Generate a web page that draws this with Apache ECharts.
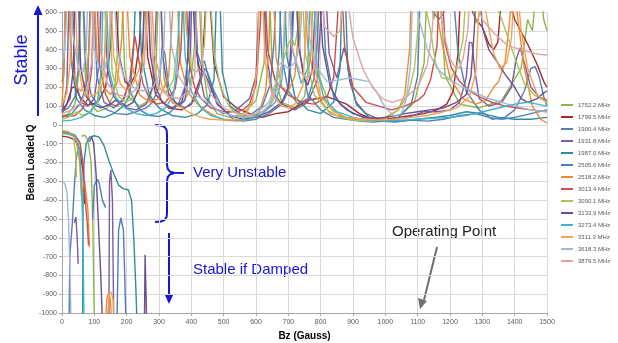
<!DOCTYPE html>
<html>
<head>
<meta charset="utf-8">
<script src="https://cdn.jsdelivr.net/npm/echarts@6/dist/echarts.min.js"></script>
<style>
  html, body { margin: 0; padding: 0; background: #fff; }
  #chart { width: 618px; height: 343px; }
</style>
</head>
<body>
<div id="chart"></div>
<script>
// Beam loaded Q vs Bz for each mode, [Bz, Q]; null breaks a line
var seriesNames = ['1752.2 MHz', '1799.5 MHz', '1900.4 MHz', '1931.8 MHz', '1987.0 MHz', '2505.6 MHz', '2518.2 MHz',
    '3013.4 MHz', '3090.1 MHz', '3133.9 MHz', '3273.4 MHz', '3311.3 MHz', '3618.3 MHz', '3879.5 MHz'];

var q1752 = [[0,45],[20,60],[40,110],[50,250],[56,700],[64,700],[72,260],[85,120],[110,70],[140,90],[160,160],[170,330],[176,700],[186,700],[194,300],[210,140],[240,100],[270,130],[290,260],[298,700],[306,700],[316,240],[340,120],[370,110],[395,180],[410,420],[416,700],[424,700],[432,360],[450,140],[480,60],[520,40],[560,60],[600,130],[625,330],[632,700],[642,700],[650,300],[680,120],[720,90],[750,150],[770,380],[776,700],[786,700],[795,260],[830,90],[870,40],[920,25],[980,20],[1040,40],[1090,120],[1120,330],[1128,700],[1140,700],[1150,560],[1160,700],[1170,700],[1185,260],[1230,110],[1290,90],[1360,130],[1420,300],[1440,560],[1455,500],[1465,700],[1480,700],[1490,560],[1500,500],
    [1500,null],[60,-60],[70,-55],[80,-80],[90,-200],[95,-500],[100,-1050]];
var q1799 = [[0,60],[15,110],[30,195],[40,205],[55,150],[80,105],[110,120],[135,200],[150,420],[156,700],[166,700],[175,380],[195,230],[210,210],[225,260],[240,440],[246,700],[256,700],[265,360],[290,160],[330,90],[370,80],[400,110],[430,260],[440,500],[446,700],[456,700],[470,330],[500,150],[540,90],[580,60],[620,40],[660,60],[700,70],[740,110],[760,130],[790,140],[820,150],[850,130],[880,110],[920,60],[960,30],[1000,30],[1040,40],[1080,50],[1120,60],[1160,80],[1190,110],[1210,180],[1225,380],[1232,700],[1245,700],[1260,640],[1280,560],[1300,520],[1320,430],[1335,400],[1348,440],[1360,700],[1375,700],[1400,560],[1440,430],[1470,320],[1490,230],[1500,200],
    [1500,null],[0,-60],[20,-65],[40,-80],[55,-130],[65,-250],[70,-420]];
var q1900 = [[0,70],[20,90],[40,150],[52,320],[58,700],[66,700],[74,300],[90,160],[110,110],[140,80],[170,60],[200,55],[230,70],[260,90],[280,120],[300,200],[310,420],[318,380],[330,200],[350,120],[380,90],[410,130],[430,240],[440,300],[450,280],[470,180],[500,80],[530,30],[560,20],[600,30],[640,60],[680,110],[700,180],[712,420],[718,700],[728,700],[736,380],[760,160],[800,80],[840,40],[880,30],[920,20],[960,15],[1000,20],[1040,40],[1080,110],[1100,260],[1108,700],[1120,700],[1140,620],[1165,560],[1180,590],[1195,700],[1210,700],[1225,380],[1250,180],[1290,80],[1330,30],[1370,40],[1400,80],[1430,180],[1450,300],[1463,310],[1475,260],[1490,150],[1500,100],
    [1500,null],[22,-1050],[24,-700],[27,-630],[32,-520],[38,-330],[44,-180],[50,-120]];
var q1931 = [[0,70],[15,200],[22,700],[32,700],[40,240],[60,120],[80,100],[100,140],[115,330],[122,700],[132,700],[140,300],[160,150],[180,110],[200,90],[230,80],[260,110],[280,200],[288,440],[294,700],[304,700],[312,360],[330,160],[360,100],[380,130],[395,300],[402,700],[412,700],[420,320],[440,150],[470,90],[500,60],[540,80],[580,140],[600,260],[608,600],[614,700],[624,700],[632,380],[650,180],[680,110],[720,80],[760,120],[790,240],[800,560],[806,700],[816,700],[826,380],[850,250],[872,410],[880,360],[890,230],[910,120],[940,60],[980,30],[1020,25],[1070,40],[1120,70],[1160,70],[1200,80],[1230,120],[1250,250],[1260,440],[1268,436],[1276,300],[1290,140],[1320,100],[1360,120],[1390,200],[1405,350],[1417,410],[1430,330],[1450,200],[1475,150],[1500,130],
    [1500,null],[38,-520],[43,-490],[47,-600],[50,-740],
    [50,null],[145,-1050],[147,-300],[151,-240],[156,-400],[160,-1050]];
var q1987 = [[0,230],[5,260],[8,400],[12,700],[22,700],[30,320],[45,140],[70,80],[100,50],[130,40],[160,60],[190,100],[210,160],[222,420],[228,700],[238,700],[246,360],[270,160],[300,90],[340,50],[380,40],[420,60],[450,110],[470,240],[478,700],[488,700],[496,280],[520,100],[560,50],[600,50],[640,90],[660,160],[672,400],[678,700],[688,700],[696,360],[720,150],[760,80],[800,60],[840,120],[860,300],[866,700],[876,700],[884,300],[910,110],[950,40],[1000,20],[1050,20],[1100,30],[1150,40],[1200,50],[1250,70],[1300,60],[1350,40],[1400,30],[1450,30],[1500,40],
    [1500,null],[64,-1050],[65,-400],[68,-200],[75,-100],[85,-65],[100,-58],[115,-65],[130,-110],[145,-190],[160,-260],[175,-320],[190,-340],[205,-345],[215,-400],[222,-600],[228,-850],[232,-1050]];
var q2505 = [[0,40],[30,60],[60,120],[80,250],[88,700],[98,700],[108,260],[130,120],[160,90],[190,140],[205,213],[218,150],[240,80],[270,50],[300,45],[330,60],[360,110],[380,200],[392,420],[398,700],[408,700],[416,400],[430,320],[440,340],[455,240],[480,120],[510,60],[540,40],[580,50],[620,100],[645,220],[656,450],[662,700],[672,700],[680,360],[700,180],[730,110],[760,140],[780,250],[790,450],[796,700],[806,700],[815,380],[840,150],[880,80],[930,40],[980,20],[1030,15],[1080,25],[1130,20],[1180,30],[1230,50],[1280,60],[1320,40],[1360,30],[1400,40],[1450,60],[1500,80],
    [1500,null],[95,-500],[100,-320],[110,-290],[115,-310],[125,-400],[135,-440],
    [135,null],[170,-1050],[175,-560],[182,-495],[190,-560],[198,-1050]];
var q2518 = [[0,100],[6,300],[10,700],[20,700],[28,360],[45,200],[60,180],[75,240],[85,440],[90,700],[100,700],[108,380],[130,200],[150,160],[170,220],[185,460],[190,700],[200,700],[210,360],[240,160],[270,120],[300,140],[330,260],[342,600],[346,700],[356,700],[366,330],[390,170],[420,110],[450,70],[470,50],[500,25],[540,20],[580,30],[610,70],[630,180],[640,420],[644,700],[654,700],[662,360],[680,200],[700,180],[720,260],[735,560],[740,700],[750,700],[760,420],[780,250],[800,130],[830,60],[870,40],[920,30],[960,30],[1000,40],[1040,80],[1060,160],[1075,400],[1080,700],[1090,700],[1110,620],[1140,700],[1150,700],[1175,440],[1200,250],[1240,140],[1280,110],[1310,130],[1335,200],[1350,230],[1370,330],[1385,560],[1390,700],[1400,700],[1410,560],[1430,300],[1455,100],[1480,30],[1500,10],
    [1500,null],[0,-40],[20,-45],[35,-60],[45,-90],[55,-200],[60,-380],[65,-330],[70,-300],[80,-450],[85,-650],
    [85,null],[134,-1050],[139,-920],[144,-895],[150,-930],[153,-1050]];
var q3013 = [[0,50],[20,45],[40,50],[60,80],[80,140],[92,300],[98,700],[108,700],[116,320],[135,160],[150,110],[170,100],[190,130],[210,240],[222,440],[226,470],[234,380],[250,220],[270,140],[290,110],[320,120],[350,190],[368,400],[374,700],[384,700],[392,340],[410,200],[430,140],[460,90],[500,70],[540,70],[560,80],[580,110],[600,210],[612,500],[618,700],[628,700],[636,400],[660,230],[700,160],[740,120],[780,110],[820,150],[840,250],[852,560],[856,700],[866,700],[874,420],[900,200],[940,120],[980,100],[1020,80],[1060,100],[1100,130],[1120,160],[1140,240],[1160,420],[1166,700],[1176,700],[1185,430],[1205,300],[1230,230],[1260,180],[1290,150],[1330,120],[1370,100],[1410,90],[1450,80],[1500,70],
    [1500,null],[0,-35],[20,-40],[40,-55],[55,-90],[65,-200],[72,-400],[78,-520],[82,-640]];
var q3090 = [[0,30],[20,40],[35,60],[50,70],[60,50],[80,60],[110,120],[130,260],[137,700],[147,700],[155,280],[175,150],[200,120],[230,160],[250,330],[256,700],[266,700],[274,360],[295,200],[320,170],[345,240],[360,470],[365,700],[375,700],[385,500],[400,300],[415,280],[430,320],[440,420],[448,700],[458,700],[470,380],[490,200],[520,90],[560,40],[600,40],[640,100],[660,200],[680,320],[700,430],[710,460],[720,420],[730,520],[734,700],[744,700],[752,380],[780,160],[820,80],[860,40],[900,25],[950,20],[1000,30],[1040,80],[1070,160],[1090,300],[1100,500],[1106,700],[1116,700],[1140,500],[1155,330],[1175,250],[1200,240],[1220,300],[1240,450],[1250,700],[1262,700],[1280,540],[1300,620],[1310,700],[1330,700],[1360,560],[1400,360],[1430,220],[1460,160],[1500,120],
    [1500,null],[0,-30],[20,-35],[35,-60],[42,-150],[45,-280]];
var q3133 = [[0,80],[10,100],[25,140],[35,300],[40,700],[50,700],[58,300],[75,150],[95,110],[120,90],[150,110],[165,130],[180,120],[200,100],[220,120],[240,200],[250,420],[255,700],[265,700],[273,380],[290,200],[310,120],[340,90],[370,120],[385,220],[392,500],[396,700],[404,700],[412,420],[425,300],[440,280],[455,220],[480,110],[520,50],[560,30],[600,40],[640,70],[680,120],[700,200],[710,480],[716,700],[724,700],[732,420],[748,250],[760,210],[775,300],[782,600],[786,700],[796,700],[806,420],[830,200],[860,110],[900,60],[940,40],[980,35],[1020,45],[1060,60],[1100,70],[1140,80],[1180,90],[1220,120],[1250,160],[1265,260],[1275,500],[1280,700],[1292,700],[1300,520],[1320,400],[1340,350],[1370,270],[1400,200],[1420,140],[1440,120],[1470,140],[1490,170],[1500,180],
    [1500,null],[85,-90],[92,-65],[98,-100],[105,-250],[112,-500],[120,-800],[125,-1050],
    [125,null],[255,-1050],[257,-690],[260,-700],[262,-1050]];
var q3273 = [[0,20],[30,25],[60,40],[90,70],[110,130],[122,300],[127,700],[137,700],[145,300],[165,150],[195,90],[230,60],[260,50],[290,60],[320,90],[345,160],[358,360],[363,700],[373,700],[381,360],[400,180],[430,90],[460,50],[500,30],[540,25],[580,30],[620,60],[660,120],[680,240],[690,520],[695,700],[705,700],[713,400],[740,220],[760,300],[768,700],[778,700],[788,300],[810,140],[850,70],[900,40],[950,25],[1000,20],[1050,25],[1100,30],[1150,35],[1200,40],[1250,50],[1300,70],[1350,90],[1400,110],[1440,120],[1470,110],[1500,100],
    [1500,null],[0,-45],[20,-50],[40,-60],[50,-90],[55,-150],[60,-300],[65,-600],[68,-1050]];
var q3311 = [[0,110],[15,170],[25,330],[30,700],[40,700],[48,340],[65,180],[85,150],[110,170],[125,260],[135,420],[140,700],[150,700],[160,360],[180,220],[200,180],[220,220],[240,300],[260,440],[266,700],[276,700],[286,380],[310,200],[340,120],[370,90],[400,60],[430,40],[460,30],[500,25],[540,30],[570,60],[590,130],[605,320],[610,700],[620,700],[628,340],[650,160],[680,100],[700,90],[720,110],[745,210],[752,430],[757,700],[767,700],[775,380],[800,150],[840,70],[880,40],[930,30],[980,25],[1030,30],[1080,40],[1130,50],[1180,70],[1220,90],[1260,150],[1280,280],[1288,560],[1292,700],[1302,700],[1315,560],[1335,380],[1355,300],[1375,330],[1390,460],[1398,700],[1410,700],[1420,500],[1440,300],[1470,160],[1500,120],
    [1500,null],[140,-1050],[145,-900],[152,-890],[158,-930],[161,-1050]];
var q3618 = [[0,340],[6,360],[12,500],[16,700],[26,700],[34,480],[50,300],[65,280],[75,400],[80,700],[90,700],[98,420],[115,300],[130,290],[145,380],[152,700],[162,700],[170,400],[190,260],[220,200],[250,180],[280,200],[300,260],[315,420],[320,700],[330,700],[338,420],[360,260],[390,180],[420,150],[450,120],[480,80],[520,50],[560,40],[600,60],[640,120],[660,220],[670,320],[680,330],[700,300],[720,330],[735,420],[745,700],[755,700],[765,460],[790,300],[820,230],[860,240],[890,250],[920,240],[950,230],[975,170],[1000,90],[1030,45],[1050,60],[1065,140],[1078,320],[1084,700],[1094,700],[1104,560],[1130,400],[1160,300],[1200,240],[1240,200],[1280,170],[1320,140],[1360,120],[1400,100],[1450,80],[1500,70],
    [1500,null],[0,-300],[8,-310],[15,-350],[20,-500],[25,-800],[28,-1050]];
var q3879 = [[0,60],[30,80],[60,120],[80,200],[95,380],[100,700],[110,700],[120,380],[140,220],[170,160],[200,150],[230,190],[255,320],[262,700],[272,700],[280,340],[300,200],[330,150],[360,140],[390,170],[410,260],[418,700],[428,700],[436,300],[460,160],[500,90],[540,60],[580,50],[620,70],[650,120],[675,240],[685,420],[690,700],[700,700],[710,420],[735,280],[760,250],[780,300],[792,700],[802,700],[812,520],[840,470],[860,500],[870,700],[880,700],[900,460],[930,300],[960,200],[990,140],[1020,120],[1060,140],[1100,200],[1130,320],[1145,500],[1152,700],[1162,700],[1180,500],[1200,350],[1215,310],[1228,300],[1240,350],[1255,500],[1262,700],[1275,700],[1300,560],[1340,480],[1380,420],[1420,400],[1460,380],[1500,370]];

var seriesData = [q1752, q1799, q1900, q1931, q1987, q2505, q2518, q3013, q3090, q3133, q3273, q3311, q3618, q3879];

var lineColors = ['#8db64c', '#a3292b', '#5b7fb0', '#7e5a9e', '#2e8d9e', '#4a7ec0', '#f08a30',
    '#cc4f4a', '#a9c55a', '#6a4e8e', '#3fb4cc', '#f7a050', '#9db8da', '#dda5a3'];

var myChart = echarts.init(document.getElementById('chart'));

var series = seriesNames.map(function (name, i) {
    return {
        name: name,
        type: 'line',
        data: seriesData[i],
        color: lineColors[i],
        symbol: 'none',
        connectNulls: false,
        clip: true,
        lineStyle: { width: 1.4 }
    };
});

var blue = '#1515d6';
var plain = function (v) { return String(v); };

var option = {
    animation: false,
    backgroundColor: '#fff',
    grid: { left: 62, right: 71, top: 12, bottom: 30, outerBoundsMode: 'none' },
    legend: {
        orient: 'vertical',
        left: 556,
        top: 96,
        icon: 'rect',
        itemWidth: 12,
        itemHeight: 2,
        itemGap: 4,
        textStyle: { fontSize: 6, lineHeight: 8, color: '#595959', fontFamily: 'Liberation Sans' },
        data: seriesNames
    },
    xAxis: {
        type: 'value',
        min: 0, max: 1500, interval: 100,
        name: 'Bz (Gauss)',
        nameLocation: 'middle',
        nameGap: 18,
        nameMoveOverlap: false,
        nameTextStyle: { fontSize: 10, fontWeight: 'bold', color: '#000', fontFamily: 'Liberation Sans' },
        axisLine: { onZero: false, lineStyle: { color: '#a6a6a6' } },
        axisTick: { show: true, length: 3, lineStyle: { color: '#a6a6a6' } },
        axisLabel: { fontSize: 7, color: '#595959', margin: 6, fontFamily: 'Liberation Sans', formatter: plain },
        splitLine: { lineStyle: { color: '#d9d9d9' } }
    },
    yAxis: {
        type: 'value',
        min: -1000, max: 600, interval: 100,
        name: 'Beam Loaded Q',
        nameLocation: 'middle',
        nameGap: 26,
        nameMoveOverlap: false,
        nameRotate: 90,
        nameTextStyle: { fontSize: 10, fontWeight: 'bold', color: '#000', fontFamily: 'Liberation Sans' },
        axisLine: { show: true, lineStyle: { color: '#a6a6a6' } },
        axisTick: { show: true, length: 3, lineStyle: { color: '#a6a6a6' } },
        axisLabel: { fontSize: 7, color: '#595959', margin: 5, fontFamily: 'Liberation Sans', formatter: plain },
        splitLine: { lineStyle: { color: '#d9d9d9' } }
    },
    graphic: [
        // "Stable" with upward arrow
        { type: 'text', x: 22, y: 60, rotation: Math.PI / 2,
          style: { text: 'Stable', fill: blue, font: '18px Liberation Sans', align: 'center', verticalAlign: 'middle' } },
        { type: 'line', shape: { x1: 38, y1: 116, x2: 38, y2: 14 }, style: { stroke: blue, lineWidth: 2 } },
        { type: 'polygon', shape: { points: [[38, 5], [33.5, 15], [42.5, 15]] }, style: { fill: blue } },
        // brace and "Very Unstable"
        { type: 'polyline', shape: { points: [[155,125],[161,125.4],[164.6,127],[166.6,130],[167,134],[167,165],[167.8,169],[170,171.6],[174,172.8],[184,173]] },
          style: { stroke: blue, lineWidth: 2, fill: null } },
        { type: 'polyline', shape: { points: [[174,173.2],[170,174.4],[167.8,177],[167,181],[167,213],[166.6,217],[164.6,220],[161,221.6],[155,222]] },
          style: { stroke: blue, lineWidth: 2, fill: null } },
        { type: 'text', x: 193, y: 173,
          style: { text: 'Very Unstable', fill: blue, font: '15px Liberation Sans', verticalAlign: 'middle' } },
        // downward arrow and "Stable if Damped"
        { type: 'line', shape: { x1: 169, y1: 233, x2: 169, y2: 294 }, style: { stroke: blue, lineWidth: 2 } },
        { type: 'polygon', shape: { points: [[169, 304], [164.5, 294], [173.5, 294]] }, style: { fill: blue } },
        { type: 'text', x: 193, y: 270,
          style: { text: 'Stable if Damped', fill: blue, font: '15px Liberation Sans', verticalAlign: 'middle' } },
        // operating point
        { type: 'text', x: 392, y: 232,
          style: { text: 'Operating Point', fill: '#222', font: '15px Liberation Sans', verticalAlign: 'middle' } },
        { type: 'line', shape: { x1: 437, y1: 247, x2: 424, y2: 300 }, style: { stroke: '#6f6f6f', lineWidth: 2 } },
        { type: 'polygon', shape: { points: [[420, 309], [418, 298], [427, 301]] }, style: { fill: '#6f6f6f' } }
    ],
    series: series
};

myChart.setOption(option);
</script>
</body>
</html>
